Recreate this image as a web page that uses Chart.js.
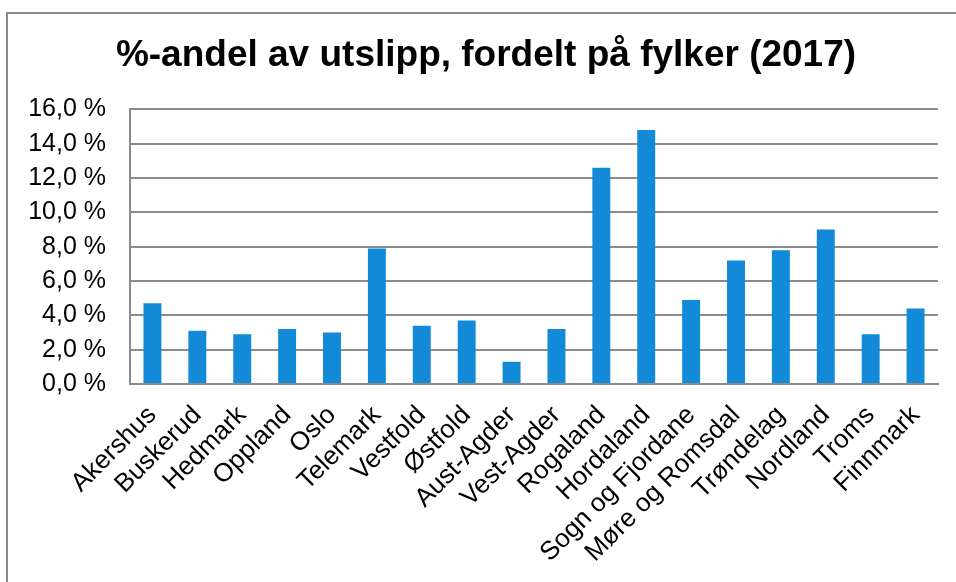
<!DOCTYPE html>
<html>
<head>
<meta charset="utf-8">
<script src="https://cdn.jsdelivr.net/npm/chart.js@4/dist/chart.umd.min.js"></script>
<style>
  body { margin: 0; background: #fff; overflow: hidden; }
  .frame {
    position: absolute; left: 6px; top: 12px; width: 980px; height: 600px;
    border-top: 2px solid #8c8c8c; border-left: 2px solid #8c8c8c;
  }
  canvas { position: absolute; left: 0; top: 0; }
</style>
</head>
<body>
<div class="frame"></div>
<canvas id="mychart" width="956" height="582"></canvas>
<script>
// fylker og andel utslipp (%), lest av figuren
const fylker = ['Akershus', 'Buskerud', 'Hedmark', 'Oppland', 'Oslo', 'Telemark', 'Vestfold', 'Østfold',
  'Aust-Agder', 'Vest-Agder', 'Rogaland', 'Hordaland', 'Sogn og Fjordane', 'Møre og Romsdal',
  'Trøndelag', 'Nordland', 'Troms', 'Finnmark'];
const andel = [4.7, 3.1, 2.9, 3.2, 3.0, 7.9, 3.4, 3.7, 1.3, 3.2, 12.6, 14.8, 4.9, 7.2, 7.8, 9.0, 2.9, 4.4];
const yMin = 0;
const yMax = 16;
const yStep = 2;

const fontFamily = '"Liberation Sans", Arial, sans-serif';
const gridColor = '#8c8c8c';

// title sits a bit right of the canvas centre in the original
const shiftTitle = {
  id: 'shiftTitle',
  afterLayout(chart) {
    if (chart.titleBlock) {
      chart.titleBlock.left += 9;
      chart.titleBlock.right += 9;
    }
  }
};

const ctx = document.getElementById('mychart').getContext('2d');

new Chart(ctx, {
  type: 'bar',
  data: {
    labels: fylker,
    datasets: [
      {
        label: 'andel',
        data: andel,
        backgroundColor: '#138ad8',
        borderWidth: 0,
        categoryPercentage: 1,
        barPercentage: 0.4
      }
    ]
  },
  plugins: [shiftTitle],
  options: {
    responsive: false,
    animation: false,
    devicePixelRatio: 1,
    layout: {
      autoPadding: false,
      padding: { left: 16, right: 18, top: 0, bottom: 0 }
    },
    plugins: {
      legend: { display: false },
      tooltip: { enabled: false },
      title: {
        display: true,
        text: '%-andel av utslipp, fordelt på fylker (2017)',
        color: '#000',
        font: { family: fontFamily, size: 37, weight: 'bold' },
        padding: { top: 34, bottom: 31 }
      }
    },
    scales: {
      x: {
        grid: { display: false },
        border: { display: true, color: gridColor, width: 2 },
        ticks: {
          color: '#000',
          font: { family: fontFamily, size: 26 },
          minRotation: 45,
          maxRotation: 45,
          autoSkip: false,
          padding: 8
        },
        afterFit: (scale) => { scale.height = 198; }
      },
      y: {
        min: yMin,
        max: yMax,
        grid: { color: gridColor, lineWidth: 2, drawTicks: false, tickLength: 0 },
        border: { display: true, color: gridColor, width: 2 },
        ticks: {
          stepSize: yStep,
          color: '#000',
          font: { family: fontFamily, size: 25 },
          padding: 24,
          callback: (v) => v.toFixed(1).replace('.', ',') + ' %'
        },
        afterFit: (scale) => { scale.width = 114; }
      }
    }
  }
});
</script>
</body>
</html>
